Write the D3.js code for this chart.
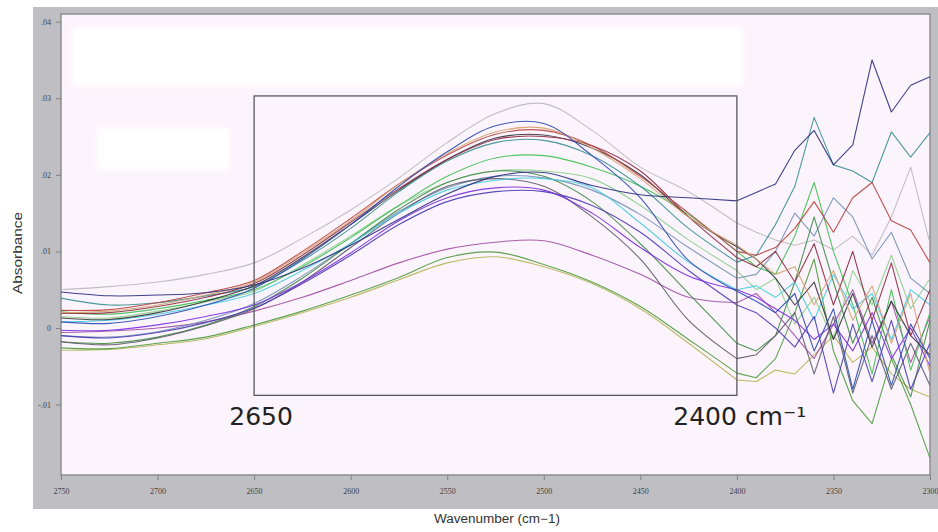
<!DOCTYPE html>
<html>
<head>
<meta charset="utf-8">
<script src="https://cdn.jsdelivr.net/npm/d3@7"></script>
<style>
  body { margin: 0; background: #fff; }
  text { font-family: 'Liberation Sans', Arial, sans-serif; }
</style>
</head>
<body>
<div id="chart"></div>
<script>
// wavenumber grid (cm-1) shared by all spectra
const wavenumbers = [2750, 2725, 2700, 2675, 2650, 2625, 2600, 2575, 2550, 2525, 2500, 2475, 2450, 2425, 2400,
  2390, 2380, 2370, 2360, 2350, 2340, 2330, 2320, 2310, 2300];

// absorbance, one array per spectrum
const grayAbs = [0.0050, 0.0054, 0.0060, 0.0070, 0.0085, 0.0117, 0.0154, 0.0196, 0.0242, 0.0280, 0.0293, 0.0258, 0.0210, 0.0178, 0.0137,
  0.0125, 0.0115, 0.0108, 0.0115, 0.0102, 0.0120, 0.0095, 0.0145, 0.0210, 0.0110];
const navyAbs = [0.0047, 0.0042, 0.0043, 0.0046, 0.0056, 0.0078, 0.0108, 0.0142, 0.0175, 0.0198, 0.0203, 0.0186, 0.0174, 0.0170, 0.0166,
  0.0177, 0.0188, 0.0232, 0.0258, 0.0213, 0.0239, 0.0350, 0.0282, 0.0317, 0.0328];
const blueAbs = [0.0008, 0.0006, 0.0015, 0.0030, 0.0052, 0.0090, 0.0135, 0.0185, 0.0230, 0.0264, 0.0267, 0.0225, 0.0170, 0.0088, 0.0048,
  0.0035, 0.0020, 0.0045, -0.0030, 0.0025, -0.0080, 0.0010, -0.0075, 0.0005, -0.0040];
const tanAbs = [0.0020, 0.0022, 0.0030, 0.0043, 0.0060, 0.0098, 0.0140, 0.0188, 0.0228, 0.0256, 0.0261, 0.0235, 0.0195, 0.0145, 0.0108,
  0.0090, 0.0070, 0.0080, 0.0030, 0.0075, 0.0010, 0.0055, -0.0020, 0.0045, -0.0060];
const redAbs = [0.0023, 0.0024, 0.0033, 0.0046, 0.0062, 0.0100, 0.0143, 0.0188, 0.0226, 0.0253, 0.0258, 0.0238, 0.0198, 0.0150, 0.0100,
  0.0095, 0.0105, 0.0130, 0.0165, 0.0125, 0.0170, 0.0190, 0.0140, 0.0128, 0.0085];
const darkRedAbs = [0.0019, 0.0020, 0.0028, 0.0040, 0.0058, 0.0095, 0.0138, 0.0182, 0.0220, 0.0246, 0.0250, 0.0238, 0.0205, 0.0145, 0.0092,
  0.0080, 0.0100, 0.0060, 0.0110, 0.0030, 0.0100, 0.0010, 0.0085, -0.0010, 0.0050];
const blackAbs = [0.0013, 0.0011, 0.0020, 0.0035, 0.0055, 0.0092, 0.0135, 0.0180, 0.0220, 0.0248, 0.0252, 0.0235, 0.0200, 0.0145, 0.0106,
  0.0090, 0.0065, 0.0030, 0.0060, -0.0015, 0.0045, -0.0025, 0.0035, -0.0010, -0.0035];
const tealAbs = [0.0039, 0.0030, 0.0033, 0.0042, 0.0054, 0.0088, 0.0130, 0.0178, 0.0218, 0.0242, 0.0245, 0.0225, 0.0185, 0.0130, 0.0086,
  0.0095, 0.0135, 0.0185, 0.0275, 0.0213, 0.0205, 0.0190, 0.0256, 0.0223, 0.0255];
const greenAbs = [0.0021, 0.0018, 0.0025, 0.0036, 0.0050, 0.0080, 0.0118, 0.0160, 0.0198, 0.0222, 0.0225, 0.0210, 0.0185, 0.0148, 0.0100,
  0.0080, 0.0070, 0.0120, 0.0190, 0.0100, 0.0030, -0.0060, 0.0050, -0.0055, 0.0020];
const lightGreenAbs = [0.0015, 0.0013, 0.0022, 0.0034, 0.0048, 0.0082, 0.0120, 0.0160, 0.0190, 0.0205, 0.0205, 0.0195, 0.0160, 0.0115, 0.0075,
  0.0050, 0.0065, 0.0005, 0.0040, -0.0015, 0.0075, 0.0030, 0.0095, 0.0025, 0.0065];
const darkGrayAbs = [-0.0018, -0.0022, -0.0013, 0.0003, 0.0025, 0.0060, 0.0105, 0.0150, 0.0185, 0.0195, 0.0185, 0.0145, 0.0090, 0.0010, -0.0040,
  -0.0035, -0.0010, 0.0020, -0.0060, 0.0015, -0.0085, -0.0010, -0.0080, -0.0020, -0.0075];
const darkGreenAbs = [-0.0018, -0.0020, -0.0012, 0.0004, 0.0028, 0.0065, 0.0110, 0.0155, 0.0190, 0.0205, 0.0198, 0.0165, 0.0110, 0.0045, -0.0020,
  -0.0030, -0.0010, 0.0060, 0.0145, 0.0060, -0.0020, 0.0040, -0.0035, -0.0090, 0.0010];
const cyanAbs = [0.0008, 0.0010, 0.0018, 0.0030, 0.0045, 0.0075, 0.0110, 0.0150, 0.0180, 0.0193, 0.0195, 0.0183, 0.0137, 0.0086, 0.0050,
  0.0055, 0.0040, 0.0060, 0.0010, 0.0070, 0.0025, 0.0045, -0.0015, 0.0050, 0.0030];
const steelAbs = [-0.0010, -0.0012, -0.0005, 0.0010, 0.0032, 0.0068, 0.0110, 0.0152, 0.0183, 0.0198, 0.0196, 0.0180, 0.0148, 0.0105, 0.0065,
  0.0070, 0.0100, 0.0150, 0.0120, 0.0170, 0.0145, 0.0090, 0.0125, 0.0065, 0.0045];
const violetAbs = [-0.0003, -0.0003, 0.0004, 0.0015, 0.0030, 0.0060, 0.0098, 0.0140, 0.0170, 0.0183, 0.0180, 0.0150, 0.0105, 0.0068, 0.0050,
  0.0040, 0.0025, 0.0010, -0.0015, 0.0005, -0.0030, 0.0020, -0.0040, 0.0000, -0.0050];
const purpleBlueAbs = [-0.0010, -0.0013, -0.0006, 0.0007, 0.0026, 0.0058, 0.0095, 0.0135, 0.0165, 0.0178, 0.0178, 0.0160, 0.0125, 0.0075, 0.0030,
  0.0020, 0.0000, -0.0025, 0.0015, -0.0085, 0.0005, -0.0070, 0.0010, -0.0080, -0.0020];
const magentaAbs = [-0.0006, -0.0004, 0.0000, 0.0008, 0.0022, 0.0040, 0.0062, 0.0085, 0.0103, 0.0112, 0.0114, 0.0095, 0.0070, 0.0040, 0.0033,
  0.0045, 0.0020, -0.0010, -0.0040, 0.0005, 0.0050, -0.0020, 0.0035, -0.0045, 0.0015];
const greenLowAbs = [-0.0026, -0.0027, -0.0020, -0.0012, 0.0004, 0.0022, 0.0043, 0.0066, 0.0092, 0.0099, 0.0083, 0.0060, 0.0028, -0.0015, -0.0059,
  -0.0065, -0.0040, 0.0020, 0.0090, -0.0030, -0.0095, -0.0125, -0.0040, -0.0100, -0.0170];
const oliveLowAbs = [-0.0029, -0.0028, -0.0022, -0.0014, 0.0002, 0.0020, 0.0040, 0.0063, 0.0085, 0.0093, 0.0080, 0.0058, 0.0025, -0.0020, -0.0068,
  -0.0070, -0.0055, -0.0060, -0.0035, -0.0010, -0.0045, -0.0025, -0.0060, -0.0080, -0.0090];

const spectra = [
  { values: grayAbs, color: '#b9b9bd' },
  { values: oliveLowAbs, color: '#b5b455' },
  { values: greenLowAbs, color: '#4d9a3c' },
  { values: magentaAbs, color: '#a050a4' },
  { values: lightGreenAbs, color: '#8ccf8c' },
  { values: steelAbs, color: '#7290b2' },
  { values: darkGreenAbs, color: '#3f8a45' },
  { values: darkGrayAbs, color: '#5a5a68' },
  { values: cyanAbs, color: '#45cde0' },
  { values: purpleBlueAbs, color: '#4a3ab4' },
  { values: violetAbs, color: '#7a2ee0' },
  { values: greenAbs, color: '#3fbf52' },
  { values: tealAbs, color: '#3a8f92' },
  { values: blackAbs, color: '#333338' },
  { values: darkRedAbs, color: '#8a2a40' },
  { values: redAbs, color: '#b8403c' },
  { values: tanAbs, color: '#d4a272' },
  { values: blueAbs, color: '#2a4ab4' },
  { values: navyAbs, color: '#2a2f7c' }
];

const xTicks = [2750, 2700, 2650, 2600, 2550, 2500, 2450, 2400, 2350, 2300];
const xTickLabels = ['2750', '2700', '2650', '2600', '2550', '2500', '2450', '2400', '2350', '2300'];
const yTicks = [0.04, 0.03, 0.02, 0.01, 0, -0.01];
const yTickLabels = ['.04', '.03', '.02', '.01', '0', '-.01'];

// region marked on the spectra and the blanked-out boxes (data units)
const markedRegion = { from: 2650, to: 2400, top: 0.0303, bottom: -0.0088 };
const blankBoxes = [
  { from: 2744, to: 2397, top: 0.0393, bottom: 0.0316 },
  { from: 2731, to: 2663, top: 0.0261, bottom: 0.0206 }
];
// beyond this wavenumber the spectra are noisy and drawn as plain polylines
const noiseStart = 2400;

const width = 938, height = 532;
const plot = { left: 61, right: 930, top: 14, bottom: 475 };

const svg = d3.select('#chart').append('svg')
  .attr('width', width).attr('height', height);

const defs = svg.append('defs');
defs.append('clipPath').attr('id', 'plotClip')
  .append('rect')
  .attr('x', plot.left).attr('y', plot.top)
  .attr('width', plot.right - plot.left).attr('height', plot.bottom - plot.top);
defs.append('filter').attr('id', 'soft')
  .append('feGaussianBlur').attr('stdDeviation', 2.5);
defs.append('filter').attr('id', 'lineSoft')
  .append('feGaussianBlur').attr('stdDeviation', 0.35);

svg.append('rect').attr('width', width).attr('height', height).attr('fill', '#fff');

// grey frame round the plot
svg.append('rect')
  .attr('x', 33).attr('y', 7).attr('width', 905).attr('height', 502)
  .attr('fill', '#bfbec3');

svg.append('rect')
  .attr('x', plot.left).attr('y', plot.top)
  .attr('width', plot.right - plot.left).attr('height', plot.bottom - plot.top)
  .attr('fill', '#fcf4fc')
  .attr('stroke', '#8f8f92')
  .attr('stroke-width', 1.5);

const x = d3.scaleLinear().domain([2750, 2300]).range([plot.left, plot.right]);
const y = d3.scaleLinear().domain([-0.0192, 0.0410]).range([plot.bottom, plot.top]);

// white masks
svg.append('g')
  .attr('filter', 'url(#soft)')
  .selectAll('rect')
  .data(blankBoxes)
  .enter()
  .append('rect')
  .attr('x', (d) => x(d.from))
  .attr('y', (d) => y(d.top))
  .attr('width', (d) => x(d.to) - x(d.from))
  .attr('height', (d) => y(d.bottom) - y(d.top))
  .attr('fill', '#ffffff');

// axes
const xAxis = svg.append('g')
  .attr('transform', 'translate(0,' + plot.bottom + ')')
  .call(d3.axisBottom(x).tickValues(xTicks).tickSize(5).tickPadding(8)
    .tickFormat((d, i) => xTickLabels[i]));
const yAxis = svg.append('g')
  .attr('transform', 'translate(' + plot.left + ',0)')
  .call(d3.axisLeft(y).tickValues(yTicks).tickSize(5).tickPadding(5)
    .tickFormat((d, i) => yTickLabels[i]));

[xAxis, yAxis].forEach((a) => {
  a.select('.domain').remove();
  a.selectAll('.tick line').attr('stroke', '#808084');
  a.selectAll('.tick text')
    .attr('fill', '#3e3e42')
    .style('font-size', '8px')
    .style('font-family', "'Liberation Serif', serif");
});

svg.append('text')
  .attr('transform', 'translate(22,253) rotate(-90)')
  .attr('text-anchor', 'middle')
  .attr('textLength', 82)
  .attr('lengthAdjust', 'spacingAndGlyphs')
  .style('font-size', '12px')
  .attr('fill', '#333')
  .text('Absorbance');

svg.append('text')
  .attr('x', 497).attr('y', 523)
  .attr('text-anchor', 'middle')
  .attr('textLength', 126)
  .attr('lengthAdjust', 'spacingAndGlyphs')
  .style('font-size', '12px')
  .attr('fill', '#333')
  .text('Wavenumber (cm\u22121)');

// spectra: smooth band part, then noisy tail as straight segments
const smoothLine = d3.line()
  .x((d) => x(d[0]))
  .y((d) => y(d[1]))
  .curve(d3.curveCatmullRom.alpha(0.5));
const noisyLine = d3.line()
  .x((d) => x(d[0]))
  .y((d) => y(d[1]));

const pointsOf = (s) => wavenumbers.map((w, i) => [w, s.values[i]]);

const spectraG = svg.append('g')
  .attr('clip-path', 'url(#plotClip)')
  .attr('filter', 'url(#lineSoft)');

const spectrum = spectraG.selectAll('g')
  .data(spectra)
  .enter()
  .append('g')
  .attr('fill', 'none')
  .attr('stroke', (s) => s.color)
  .attr('stroke-width', 1.1)
  .attr('stroke-opacity', 0.9)
  .attr('stroke-linejoin', 'round');

spectrum.append('path')
  .attr('d', (s) => smoothLine(pointsOf(s).filter((p) => p[0] >= noiseStart)));
spectrum.append('path')
  .attr('d', (s) => noisyLine(pointsOf(s).filter((p) => p[0] <= noiseStart)));

// marked region
svg.append('rect')
  .attr('x', x(markedRegion.from))
  .attr('y', y(markedRegion.top))
  .attr('width', x(markedRegion.to) - x(markedRegion.from))
  .attr('height', y(markedRegion.bottom) - y(markedRegion.top))
  .attr('fill', 'none')
  .attr('stroke', '#58585c')
  .attr('stroke-width', 1.3);

svg.append('text')
  .attr('x', x(markedRegion.from) + 7)
  .attr('y', 425)
  .attr('text-anchor', 'middle')
  .style('font-family', "'DejaVu Sans', Verdana, sans-serif")
  .style('font-size', '25px')
  .attr('fill', '#222')
  .text('2650');

svg.append('text')
  .attr('x', x(markedRegion.to))
  .attr('y', 425)
  .attr('text-anchor', 'end')
  .style('font-family', "'DejaVu Sans', Verdana, sans-serif")
  .style('font-size', '25px')
  .attr('fill', '#222')
  .text('2400');

svg.append('text')
  .attr('x', x(markedRegion.to) + 8)
  .attr('y', 425)
  .style('font-family', "'DejaVu Sans', Verdana, sans-serif")
  .style('font-size', '25px')
  .attr('fill', '#222')
  .text('cm\u207B\u00B9');
</script>
</body>
</html>
